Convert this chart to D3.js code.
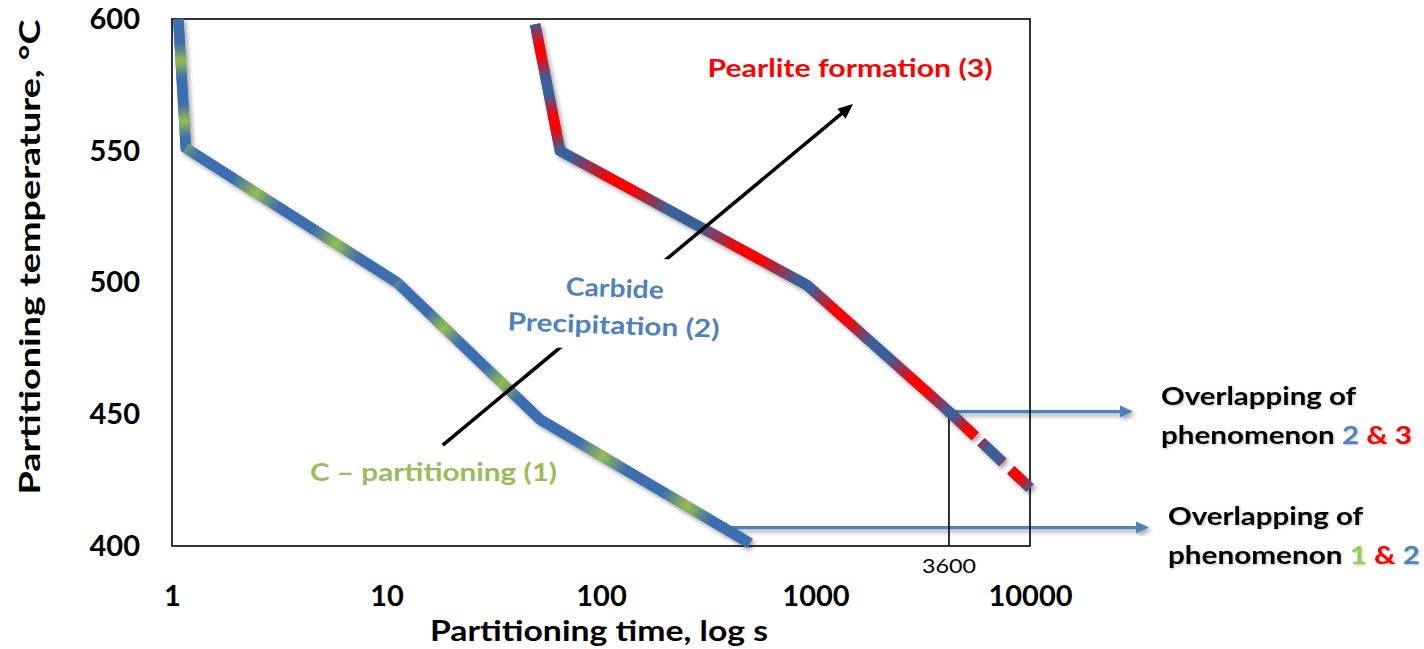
<!DOCTYPE html>
<html><head><meta charset="utf-8">
<script src="https://cdn.jsdelivr.net/npm/d3@7"></script>
<style>
body{margin:0;background:#fff}
svg{display:block}
text{font-family:Lato,"Open Sans",sans-serif}
</style>
</head><body>
<svg id="chart" width="1424" height="649"></svg>
<script>
// ---------------- data ----------------
const xTicks = [1, 10, 100, 1000, 10000];
const yTicks = [400, 450, 500, 550, 600];
// boundary curve: C-partitioning (1) / carbide precipitation (2)
const curve12Time = [1.07, 1.16, 11.2, 52, 495];
const curve12Temp = [600, 551, 500, 448, 401];
// boundary curve: carbide precipitation (2) / pearlite formation (3), solid part
const curve23Time = [49.3, 64.4, 913, 4190];
const curve23Temp = [598, 550, 499, 451];
// extrapolated (dashed) part
const curve23DashTime = [4190, 10000];
const curve23DashTemp = [451, 422];
// 3600 s marker
const markerTime = 4190, markerTemp = 451, markerLabel = "3600";
// annotation arrows (data units)
const overlap23Arrow = {t0: 3890, t1: 30200, T: 451};
const overlap12Arrow = {t0: 387, t1: 35900, T: 407};
const trendArrow = {t0: 18.3, T0: 438.3, t1: 1496, T1: 567.7};

// ---------------- styles ----------------
const plot = {left: 172, right: 1030, top: 19, bottom: 546};
const blue1 = "#3e6eb0", green = "#94bd4c", blue2 = "#3b5f98", red = "#ff0000";
const txtBlue = "#4f81bd", txtGreen = "#9bbb59", txtGreen2 = "#92d050";
const stripes12 = [{p: 60, f: 42}, {p: 95, f: 83}, {p: 80, f: 65}, {p: 98, f: 72}];
const stripes23 = [{p: 73, f: 27}, {p: 147, f: 68}, {p: 105, f: 45}];
const stripes23Dash = [{p: 61, f: 30}];
const lineW = 10.5;

const svg = d3.select("#chart");
const defs = svg.append("defs");
const f = defs.append("filter").attr("id", "sh").attr("x", "-20%").attr("y", "-20%").attr("width", "140%").attr("height", "140%");
f.append("feDropShadow").attr("dx", 2.5).attr("dy", 3).attr("stdDeviation", 2)
  .attr("flood-color", "#000").attr("flood-opacity", 0.35);
const ft = defs.append("filter").attr("id", "tsh").attr("x", "-10%").attr("y", "-20%").attr("width", "120%").attr("height", "140%");
ft.append("feDropShadow").attr("dx", 1).attr("dy", 1).attr("stdDeviation", 0.8)
  .attr("flood-color", "#000").attr("flood-opacity", 0.25);

const x = d3.scaleLog().domain([1, 10000]).range([plot.left, plot.right]);
const y = d3.scaleLinear().domain([400, 600]).range([plot.bottom, plot.top]);

// ---------------- axes ----------------
const xAxis = svg.append("g").attr("transform", `translate(0,${plot.bottom})`)
  .call(d3.axisBottom(x).tickValues(xTicks).tickFormat(d3.format("d")).tickSize(0));
xAxis.select(".domain").remove();
xAxis.selectAll("text").attr("y", 60).attr("dy", 0)
  .attr("font-family", "Lato").attr("font-weight", "bold").attr("font-size", 29).attr("fill", "#000");

const yAxis = svg.append("g").attr("transform", `translate(${plot.left},0)`)
  .call(d3.axisLeft(y).tickValues(yTicks).tickFormat(d3.format("d")).tickSize(0).tickPadding(32));
yAxis.select(".domain").remove();
yAxis.selectAll("text")
  .attr("font-family", "Lato").attr("font-weight", "bold").attr("font-size", 29).attr("fill", "#000");

svg.append("text").attr("x", 599).attr("y", 641).attr("text-anchor", "middle")
  .attr("font-weight", "bold").attr("font-size", 28).attr("textLength", 338).attr("lengthAdjust", "spacingAndGlyphs")
  .text("Partitioning time, log s");
svg.append("text").attr("transform", "translate(40,257) rotate(-90)").attr("text-anchor", "middle")
  .attr("font-weight", "bold").attr("font-size", 28).attr("textLength", 475).attr("lengthAdjust", "spacingAndGlyphs")
  .text("Partitioning temperature, °C");

// ---------------- blue annotation arrows ----------------
function blueArrow(a) {
  const g = svg.append("g").attr("filter", "url(#sh)");
  const x0 = x(a.t0), x1 = x(a.t1), yy = y(a.T);
  g.append("line").attr("x1", x0).attr("x2", x1 - 10).attr("y1", yy).attr("y2", yy)
    .attr("stroke", txtBlue).attr("stroke-width", 3.2);
  g.append("path").attr("d", `M${x1},${yy} L${x1 - 13},${yy - 6} L${x1 - 13},${yy + 6} Z`).attr("fill", txtBlue);
}
blueArrow(overlap23Arrow);
blueArrow(overlap12Arrow);

// ---------------- plot frame & marker ----------------
svg.append("rect").attr("x", plot.left).attr("y", plot.top)
  .attr("width", plot.right - plot.left).attr("height", plot.bottom - plot.top)
  .attr("fill", "none").attr("stroke", "#000").attr("stroke-width", 1.6);
svg.append("line").attr("x1", x(markerTime)).attr("x2", x(markerTime))
  .attr("y1", y(markerTemp)).attr("y2", plot.bottom).attr("stroke", "#000").attr("stroke-width", 1.6);
svg.append("text").attr("x", x(markerTime)).attr("y", 573).attr("text-anchor", "middle")
  .attr("font-size", 20).attr("textLength", 54).attr("lengthAdjust", "spacingAndGlyphs").text(markerLabel);

// ---------------- striped curves ----------------
let gid = 0;
function stripedCurve(times, temps, stripes, base, accent, redStyle, dash) {
  const pts = times.map((t, i) => [x(t), y(temps[i])]);
  const g = svg.append("g").attr("filter", "url(#sh)");
  const line = d3.line();
  const under = g.append("path").attr("d", line(pts)).attr("fill", "none")
    .attr("stroke", base).attr("stroke-width", lineW).attr("stroke-linejoin", "miter");
  if (dash) under.attr("stroke-dasharray", dash);
  for (let i = 0; i < pts.length - 1; i++) {
    const [ax, ay] = pts[i], [bx, by] = pts[i + 1];
    const L = Math.hypot(bx - ax, by - ay), ux = (bx - ax) / L, uy = (by - ay) / L;
    const s = stripes[i];
    const id = "gr" + (gid++);
    const gr = defs.append("linearGradient").attr("id", id).attr("gradientUnits", "userSpaceOnUse")
      .attr("spreadMethod", "repeat")
      .attr("x1", ax + ux * (s.f - s.p / 2)).attr("y1", ay + uy * (s.f - s.p / 2))
      .attr("x2", ax + ux * (s.f + s.p / 2)).attr("y2", ay + uy * (s.f + s.p / 2));
    const stops = redStyle
      ? [[0, base], [0.12, base], [0.42, accent], [0.58, accent], [0.88, base], [1, base]]
      : [[0, base], [0.22, base], [0.5, accent], [0.78, base], [1, base]];
    stops.forEach(([o, c]) => gr.append("stop").attr("offset", o).attr("stop-color", c));
    const seg = g.append("path").attr("d", line([pts[i], pts[i + 1]])).attr("fill", "none")
      .attr("stroke", `url(#${id})`).attr("stroke-width", lineW).attr("stroke-linecap", "butt");
    if (dash) seg.attr("stroke-dasharray", dash);
  }
}
stripedCurve(curve12Time, curve12Temp, stripes12, blue1, green, false, null);
stripedCurve(curve23Time, curve23Temp, stripes23, blue2, red, true, null);
stripedCurve(curve23DashTime, curve23DashTemp, stripes23Dash, blue2, red, true, "36 8 30 11 60");

// ---------------- black trend arrow ----------------
{
  const x0 = x(trendArrow.t0), y0 = y(trendArrow.T0), x1 = x(trendArrow.t1), y1 = y(trendArrow.T1);
  const L = Math.hypot(x1 - x0, y1 - y0), ux = (x1 - x0) / L, uy = (y1 - y0) / L;
  const hl = 15, hw = 6.5;
  svg.append("line").attr("x1", x0).attr("y1", y0).attr("x2", x1 - ux * (hl - 2)).attr("y2", y1 - uy * (hl - 2))
    .attr("stroke", "#000").attr("stroke-width", 3.5);
  const bx = x1 - ux * hl, by = y1 - uy * hl;
  svg.append("path").attr("d", `M${x1},${y1} L${bx - uy * hw},${by + ux * hw} L${bx + uy * hw},${by - ux * hw} Z`).attr("fill", "#000");
}

// ---------------- labels ----------------
// white text box of "Carbide Precipitation (2)"
svg.append("rect").attr("x", 520).attr("y", 258).attr("width", 220).attr("height", 92)
  .attr("fill", "#fff").attr("transform", "rotate(2,630,304)");
const cp = svg.append("g").attr("transform", "rotate(2,614,312)");
cp.append("text").attr("x", 614).attr("y", 297).attr("text-anchor", "middle")
  .attr("fill", txtBlue).attr("font-weight", "bold").attr("font-size", 25)
  .attr("textLength", 98).attr("lengthAdjust", "spacingAndGlyphs").text("Carbide");
cp.append("text").attr("x", 614).attr("y", 334).attr("text-anchor", "middle")
  .attr("fill", txtBlue).attr("font-weight", "bold").attr("font-size", 25)
  .attr("textLength", 212).attr("lengthAdjust", "spacingAndGlyphs").text("Precipitation (2)");

svg.append("text").attr("x", 850).attr("y", 77).attr("text-anchor", "middle")
  .attr("fill", red).attr("font-weight", "bold").attr("font-size", 25)
  .attr("textLength", 285).attr("lengthAdjust", "spacingAndGlyphs").text("Pearlite formation (3)");

svg.append("text").attr("x", 310).attr("y", 481)
  .attr("fill", txtGreen).attr("font-weight", "bold").attr("font-size", 24)
  .attr("textLength", 247).attr("lengthAdjust", "spacingAndGlyphs").text("C – partitioning (1)");

function overlapLabel(x0, yTop, w1, w2, parts) {
  const g = svg.append("g").attr("filter", "url(#tsh)");
  g.append("text").attr("x", x0).attr("y", yTop).attr("font-weight", "bold").attr("font-size", 25)
    .attr("fill", "#000").attr("textLength", w1).attr("lengthAdjust", "spacingAndGlyphs").text("Overlapping of");
  const t = g.append("text").attr("x", x0).attr("y", yTop + 39).attr("font-weight", "bold").attr("font-size", 25)
    .attr("textLength", w2).attr("lengthAdjust", "spacingAndGlyphs");
  parts.forEach(([s, c]) => t.append("tspan").attr("fill", c).text(s));
}
overlapLabel(1161, 405, 195, 251, [["phenomenon ", "#000"], ["2", txtBlue], [" & 3", red]]);
overlapLabel(1168, 525, 195, 252, [["phenomenon ", "#000"], ["1", txtGreen2], [" & ", red], ["2", txtBlue]]);
</script>
</body></html>
